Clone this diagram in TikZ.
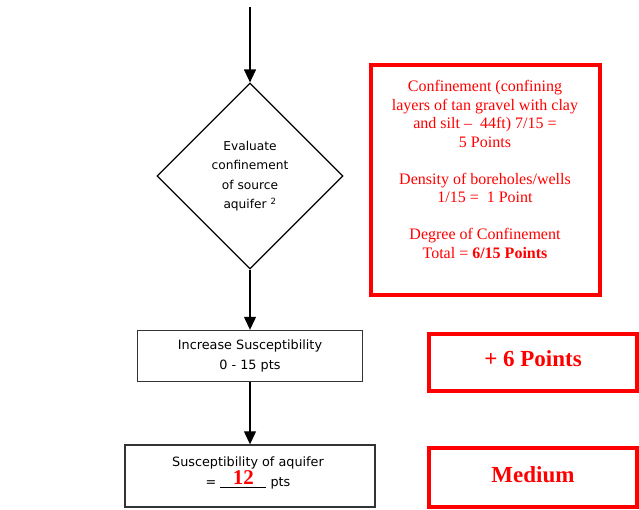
\documentclass[tikz,border=0pt]{standalone}
\usepackage{fontspec}
\setmainfont{Liberation Serif}
\setsansfont{DejaVu Sans}
\usetikzlibrary{arrows.meta,shapes.geometric}
\newcommand{\redtwelve}{\textcolor{red}{\rmfamily\bfseries\fontsize{21}{21}\selectfont 12}}

\begin{document}
\begin{tikzpicture}[x=1pt, y=-1pt,
  flow/.style = {draw=black!80, line width=1.4pt, rectangle, inner sep=0pt, align=center, font=\sffamily\fontsize{12.8}{20}\selectfont},
  decide/.style = {draw, line width=1.2pt, diamond, inner sep=0pt, minimum width=186pt, minimum height=186pt, align=center, font=\sffamily\fontsize{12.2}{19.5}\selectfont},
  redbox/.style = {draw=red, line width=4pt, rectangle, inner sep=0pt},
  redtext/.style = {text=red, align=center, font=\fontsize{16}{18.5}\selectfont},
  bigred/.style = {text=red, font=\bfseries\fontsize{23}{23}\selectfont},
  link/.style = {line width=1.2pt, -{Triangle[width=12pt,length=13pt]}}]
  \useasboundingbox (0,0) rectangle (639,509);

  \coordinate (start) at (250,7);
  \node[decide] (eval) at (250,176) {Evaluate\\confinement\\of source\\aquifer \textsuperscript{2}};
  \node[flow, minimum width=225pt, minimum height=51pt] (incr) at (250,356) {Increase Susceptibility\\0 - 15 pts};
  \node[flow, minimum width=250pt, minimum height=62pt] (total) at (250,476) {};
  \node[font=\sffamily\fontsize{12.8}{20}\selectfont, align=center, inner sep=0pt] (totaltxt) at (248,473)
    {Susceptibility of aquifer\\= \rlap{\rule[-1.5pt]{46pt}{1.2pt}}\makebox[46pt]{\smash{\raisebox{2.5pt}{\redtwelve}}} pts};

  \node[redbox, minimum width=229pt, minimum height=230pt] (conf) at (485.5,180) {};
  \node[redtext] (conftxt) at (485,169.5) {Confinement (confining\\layers of tan gravel with clay\\and silt --\ \ 44ft) 7/15 =\\5 Points\\[18.5pt]Density of boreholes/wells\\1/15 =\ \ 1 Point\\[18.5pt]Degree of Confinement\\Total = \textbf{6/15 Points}};
  \node[redbox, minimum width=208pt, minimum height=57pt] (plus) at (533,362.5) {};
  \node[bigred] (plustxt) at (533,359) {+ 6 Points};
  \node[redbox, minimum width=208pt, minimum height=59pt] (rank) at (533,477.5) {};
  \node[bigred] (ranktxt) at (533,475) {Medium};

  \draw[link] (start) -- (eval.north);
  \draw[link] (eval.south) -- (incr.north);
  \draw[link] (incr.south) -- (total.north);
\end{tikzpicture}
\end{document}
